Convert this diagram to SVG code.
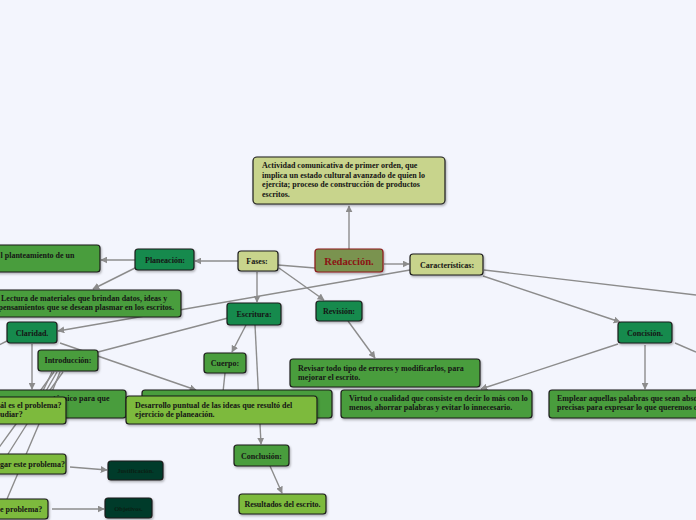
<svg xmlns="http://www.w3.org/2000/svg" width="696" height="520" viewBox="0 0 696 520">
<style>
.n{stroke:#1c1c1c;stroke-width:1.2;filter:url(#sh)}
.o{fill:#c8d48c}
.d{fill:#178a4e}
.m{fill:#4a9d3c}
.l{fill:#7dba3e}
.k{fill:#003b29}
text{font-family:"Liberation Serif","Times New Roman",serif;font-weight:bold;font-size:8px;fill:#151515}
.c{text-anchor:middle}
.e{stroke:#8c8c8c;stroke-width:1.4;fill:none}
.a{marker-end:url(#ar)}
</style>
<defs>
<marker id="ar" viewBox="0 0 10 10" refX="9" refY="5" markerWidth="7" markerHeight="7" orient="auto" markerUnits="userSpaceOnUse"><path d="M0,0L10,5L0,10z" fill="#8c8c8c"/></marker>
<filter id="sh" x="-10%" y="-20%" width="120%" height="150%"><feDropShadow dx="1" dy="1.5" stdDeviation="1" flood-opacity="0.3"/></filter>
</defs>
<rect width="696" height="520" fill="#f3f5fd"/>
<g id="connectors">
<path class="e a" d="M349,249L349,206"/>
<path class="e" d="M315,268L278,265"/>
<path class="e a" d="M384,264L409,264"/>
<path class="e a" d="M238,261L195,261"/>
<path class="e a" d="M257,272L257,302"/>
<path class="e a" d="M279,268L324,300"/>
<path class="e a" d="M135,260L101,260"/>
<path class="e a" d="M137,267L93,289"/>
<path class="e a" d="M410,270L58,331"/>
<path class="e a" d="M483,276L620,322"/>
<path class="e" d="M484,270L696,295"/>
<path class="e a" d="M618,344L481,389"/>
<path class="e a" d="M645,345L645,389"/>
<path class="e" d="M675,343L696,352"/>
<path class="e" d="M7,341L-5,347"/>
<path class="e a" d="M32,344L32,389"/>
<path class="e a" d="M60,343L196,390"/>
<path class="e" d="M228,318L98,352"/>
<path class="e a" d="M246,325L232,352"/>
<path class="e a" d="M255,325L261,444"/>
<path class="e" d="M225,373L223,392"/>
<path class="e a" d="M348,321L375,358"/>
<path class="e" d="M52,372L40,397"/>
<path class="e" d="M54,372L16,424L-10,460"/>
<path class="e" d="M57,372L27,424L8,454"/>
<path class="e" d="M60,372L39,424L7,499"/>
<path class="e" d="M63,372L45,397"/>
<path class="e a" d="M70,467L107,470"/>
<path class="e a" d="M52,509L104,509"/>
<path class="e a" d="M270,466L282,493"/>
</g>
<g id="definicion"><rect class="n o" x="253" y="157" width="192" height="47" rx="4"/>
<text x="262" y="168">Actividad comunicativa de primer orden, que</text>
<text x="262" y="177.5">implica un estado cultural avanzado de quien lo</text>
<text x="262" y="187">ejercita; proceso de construcción de productos</text>
<text x="262" y="196.5">escritos.</text></g>
<g id="redaccion"><rect x="315" y="249" width="68" height="23" rx="3" fill="#7a9350" stroke="#8b1a1a" stroke-width="1.2" filter="url(#sh)"/>
<text class="c" x="349" y="264.5" style="font-size:10.5px;fill:#8b1414">Redacción.</text></g>
<g id="fases"><rect class="n o" x="238" y="251" width="40" height="20" rx="3"/><text class="c" x="257" y="264">Fases:</text></g>
<g id="caracteristicas"><rect class="n o" x="410" y="254" width="73" height="21" rx="3"/><text class="c" x="447" y="268">Características:</text></g>
<g id="planeacion"><rect class="n d" x="135" y="249" width="59" height="21" rx="3"/><text class="c" x="165" y="263">Planeación:</text></g>
<g id="planteamiento"><rect class="n m" x="-10" y="245" width="110" height="27" rx="3"/><text x="0.5" y="258">l planteamiento de un</text></g>
<g id="lectura"><rect class="n m" x="-10" y="290" width="191" height="27" rx="3"/>
<text x="1" y="301">Lectura de materiales que brindan datos, ideas y</text>
<text x="-1.5" y="310">pensamientos que se desean plasmar en los escritos.</text></g>
<g id="claridad"><rect class="n d" x="7" y="322" width="50" height="21" rx="3"/><text class="c" x="32" y="336">Claridad.</text></g>
<g id="escritura"><rect class="n d" x="227" y="303" width="54" height="22" rx="3"/><text class="c" x="254" y="317">Escritura:</text></g>
<g id="revision"><rect class="n d" x="316" y="301" width="46" height="20" rx="3"/><text class="c" x="339" y="314">Revisión:</text></g>
<g id="introduccion"><rect class="n m" x="38" y="350" width="60" height="21" rx="3"/><text class="c" x="68" y="363">Introducción:</text></g>
<g id="cuerpo"><rect class="n m" x="204" y="353" width="42" height="20" rx="3"/><text class="c" x="225" y="366">Cuerpo:</text></g>
<g id="revisar"><rect class="n m" x="290" y="359" width="190" height="28" rx="3"/>
<text x="298" y="370.5">Revisar todo tipo de errores y modificarlos, para</text>
<text x="298" y="379.5">mejorar el escrito.</text></g>
<g id="concision"><rect class="n d" x="618" y="322" width="54" height="21" rx="3"/><text class="c" x="645" y="336">Concisión.</text></g>
<g id="tecnico"><rect class="n m" x="-10" y="390" width="136" height="28" rx="3"/><text x="53" y="401">técnico para que</text></g>
<g id="cuerpo-texto"><rect class="n m" x="142" y="390" width="190" height="28" rx="3"/></g>
<g id="desarrollo"><rect class="n l" x="126" y="396" width="191" height="28" rx="3"/>
<text x="135" y="407.5">Desarrollo puntual de las ideas que resultó del</text>
<text x="135" y="416.5">ejercicio de planeación.</text></g>
<g id="problema"><rect class="n l" x="-10" y="397" width="76" height="27" rx="3"/>
<text x="0" y="408">ál es el problema?</text>
<text x="0" y="417">udiar?</text></g>
<g id="virtud"><rect class="n m" x="341" y="390" width="191" height="28" rx="3"/>
<text x="349" y="401">Virtud o cualidad que consiste en decir lo más con lo</text>
<text x="349" y="410">menos, ahorrar palabras y evitar lo innecesario.</text></g>
<g id="emplear"><rect class="n m" x="549" y="390" width="160" height="28" rx="3"/>
<text x="557" y="401">Emplear aquellas palabras que sean absolutamente</text>
<text x="557" y="410">precisas para expresar lo que queremos decir.</text></g>
<g id="investigar"><rect class="n l" x="-10" y="454" width="76" height="20" rx="3"/><text x="0" y="467">gar este problema?</text></g>
<g id="justificacion"><rect class="n k" x="108" y="461" width="55" height="19" rx="3"/><text class="c" x="135.5" y="473" style="font-size:6.5px;fill:#0a1f14">Justificación.</text></g>
<g id="alcance"><rect class="n l" x="-10" y="499" width="58" height="20" rx="3"/><text x="0" y="512">e problema?</text></g>
<g id="objetivos"><rect class="n k" x="105" y="498" width="47" height="20" rx="3"/><text class="c" x="128.5" y="511" style="font-size:6.5px;fill:#0a1f14">Objetivos.</text></g>
<g id="conclusion"><rect class="n m" x="234" y="445" width="55" height="21" rx="3"/><text class="c" x="261.5" y="459">Conclusión:</text></g>
<g id="resultados"><rect class="n l" x="239" y="494" width="87" height="20" rx="3"/><text class="c" x="282.5" y="507">Resultados del escrito.</text></g>
</svg>
